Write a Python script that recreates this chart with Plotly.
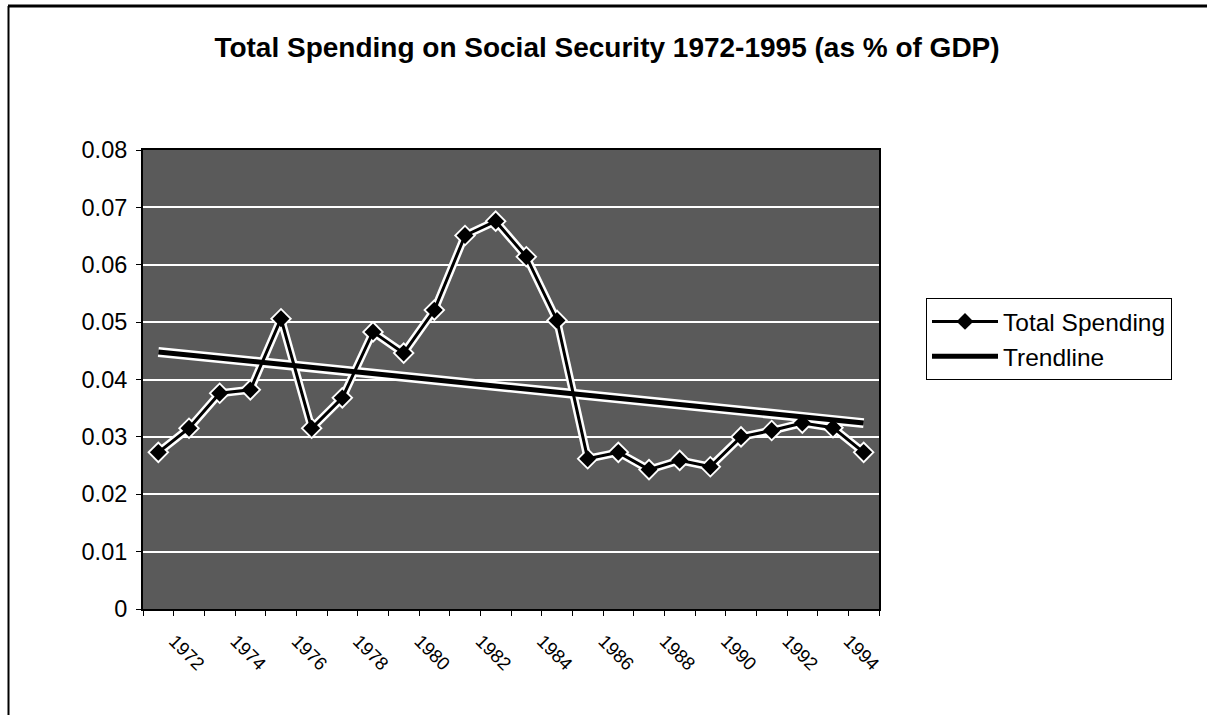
import plotly.graph_objects as go

years = list(range(1972, 1996))
total_spending = [0.0273, 0.0315, 0.0376, 0.0382, 0.0506, 0.0315, 0.0368, 0.0483,
                  0.0446, 0.0521, 0.0651, 0.0676, 0.0614, 0.0503, 0.0262, 0.0273,
                  0.0243, 0.0259, 0.0248, 0.0300, 0.0311, 0.0324, 0.0316, 0.0273]
trend_years = [1972, 1995]
trend_values = [0.0448, 0.0324]
tick_years = list(range(1972, 1995, 2))
tick_labels = [str(y) for y in tick_years]

FONT = "Arial, Liberation Sans, sans-serif"

# plot area in pixels
L, R, T, B = 143, 879, 150, 609
W, H = 1207, 715

def px(xp):
    return (xp - L) / (R - L)

def py(yp):
    return (B - yp) / (B - T)

fig = go.Figure()

# white halos (as in the printed original)
fig.add_trace(go.Scatter(x=trend_years, y=trend_values, mode="lines",
                         line=dict(color="white", width=10), showlegend=False,
                         hoverinfo="skip"))
fig.add_trace(go.Scatter(x=years, y=total_spending, mode="lines+markers",
                         line=dict(color="white", width=8),
                         marker=dict(symbol="diamond", size=17, color="white"),
                         showlegend=False, hoverinfo="skip"))

fig.add_trace(go.Scatter(x=years, y=total_spending, mode="lines+markers",
                         name="Total Spending",
                         line=dict(color="black", width=3),
                         marker=dict(symbol="diamond", size=13, color="black")))
fig.add_trace(go.Scatter(x=trend_years, y=trend_values, mode="lines",
                         name="Trendline",
                         line=dict(color="black", width=5)))

fig.update_layout(
    width=W, height=H, autosize=False,
    margin=dict(l=L, r=W - R, t=T, b=H - B),
    paper_bgcolor="white",
    plot_bgcolor="#5a5a5a",
    font=dict(family=FONT, size=20, color="black"),
    title=dict(text="<b>Total Spending on Social Security 1972-1995 (as % of GDP)</b>",
               x=607 / W, xanchor="center", y=1 - 47 / H, yanchor="middle",
               yref="container", font=dict(size=28, family=FONT, color="black")),
    legend=dict(x=px(926), y=py(298), xanchor="left", yanchor="top",
                bgcolor="white", bordercolor="black", borderwidth=1,
                itemwidth=66,
                font=dict(size=24.5, family=FONT), tracegroupgap=0),
    showlegend=True,
)

fig.update_xaxes(range=[1971.5, 1995.5], tickmode="array", tickvals=tick_years,
                 ticktext=tick_labels, tickangle=45, ticks="",
                 ticklabelshift=16, ticklabelstandoff=12,
                 showline=True, linecolor="black", linewidth=2, mirror=True,
                 showgrid=False, zeroline=False,
                 tickfont=dict(size=18.5, family=FONT),
                 minor=dict(tickmode="linear", tick0=1971.5, dtick=1,
                            ticks="outside", ticklen=5, tickcolor="black",
                            tickwidth=1, showgrid=False))
fig.update_yaxes(range=[0, 0.08], dtick=0.01, tick0=0, ticks="outside", ticklen=5,
                 tickcolor="black", showline=True, linecolor="black", linewidth=2,
                 ticklabelstandoff=4,
                 mirror=True, showgrid=True, gridcolor="white", gridwidth=2,
                 zeroline=False, tickfont=dict(size=23.5, family=FONT))

# outer chart frame (top and left edges)
fig.add_shape(type="line", xref="paper", yref="paper",
              x0=px(8), x1=px(W + 5), y0=py(6), y1=py(6),
              line=dict(color="black", width=3))
fig.add_shape(type="line", xref="paper", yref="paper",
              x0=px(8.5), x1=px(8.5), y0=py(6), y1=py(H + 5),
              line=dict(color="black", width=2))

fig.write_html("out.html")
